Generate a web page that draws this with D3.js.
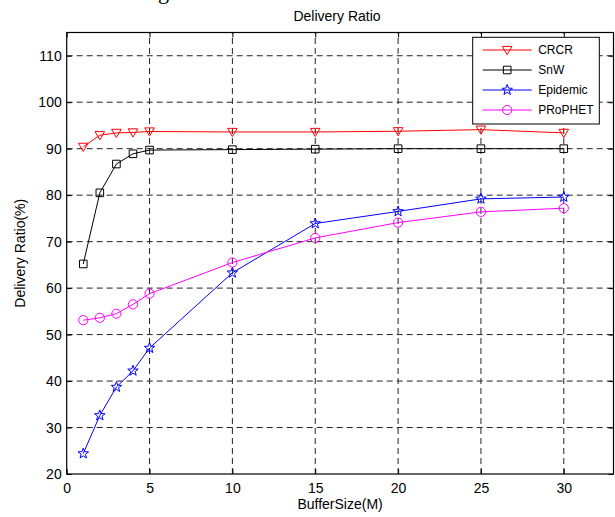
<!DOCTYPE html>
<html>
<head>
<meta charset="utf-8">
<script src="https://cdn.jsdelivr.net/npm/d3@7"></script>
<style>
  body { margin: 0; background: #fff; }
  svg { display: block; font-family: "Liberation Sans", Arial, sans-serif; }
</style>
</head>
<body>
<svg width="615" height="517"></svg>
<script>
// data
var bufferSize = [1, 2, 3, 4, 5, 10, 15, 20, 25, 30];
var crcr     = [90.4, 92.9, 93.4, 93.5, 93.7, 93.6, 93.6, 93.75, 94.1, 93.4];
var snw      = [65.2, 80.5, 86.7, 88.9, 89.7, 89.8, 89.9, 90.0, 90.0, 90.0];
var epidemic = [24.4, 32.6, 38.7, 42.2, 47.1, 63.3, 73.9, 76.5, 79.2, 79.6];
var prophet  = [53.1, 53.6, 54.5, 56.5, 58.8, 65.5, 70.8, 74.1, 76.4, 77.2];
var seriesNames = ["CRCR", "SnW", "Epidemic", "PRoPHET"];
var xTicks = [0, 5, 10, 15, 20, 25, 30];
var yTicks = [20, 30, 40, 50, 60, 70, 80, 90, 100, 110];

var svg = d3.select("svg");
var margin = {left: 66.7, top: 32.5, right: 1.5, bottom: 43};
var W = 615, H = 517;

var x = d3.scaleLinear().domain([0, 33]).range([margin.left, W - margin.right]);
var y = d3.scaleLinear().domain([20, 115]).range([H - margin.bottom, margin.top]);

var series = [
  {name: seriesNames[0], values: crcr, color: "#ff0000", marker: "tri"},
  {name: seriesNames[1], values: snw, color: "#000000", marker: "square"},
  {name: seriesNames[2], values: epidemic, color: "#0000ff", marker: "star"},
  {name: seriesNames[3], values: prophet, color: "#ff00ff", marker: "circle"}
];

// cut off caption text above the figure (only its descender shows)
svg.append("text")
  .attr("x", 158).attr("y", -1)
  .style("font-family", "Liberation Serif, serif")
  .style("font-size", "22px")
  .text("g");

// grid
var grid = svg.append("g").attr("class", "grid")
  .attr("stroke", "#222").attr("stroke-width", 1).attr("stroke-dasharray", "6,4");
grid.selectAll(".gx").data(xTicks.slice(1)).enter().append("line")
  .attr("x1", function(d) { return x(d); }).attr("x2", function(d) { return x(d); })
  .attr("y1", y(20)).attr("y2", y(115));
grid.selectAll(".gy").data(yTicks.slice(1)).enter().append("line")
  .attr("x1", x(0)).attr("x2", x(33))
  .attr("y1", function(d) { return y(d); }).attr("y2", function(d) { return y(d); });

// axes, ticks inward on all four sides
svg.append("g").attr("transform", "translate(0," + y(20) + ")")
  .call(d3.axisBottom(x).tickValues(xTicks).tickSizeInner(-5).tickSizeOuter(0).tickPadding(9));
svg.append("g").attr("transform", "translate(0," + y(115) + ")")
  .call(d3.axisTop(x).tickValues(xTicks).tickSizeInner(-5).tickSizeOuter(0).tickFormat(""));
svg.append("g").attr("transform", "translate(" + x(0) + ",0)")
  .call(d3.axisLeft(y).tickValues(yTicks).tickSizeInner(-5).tickSizeOuter(0).tickPadding(5));
svg.append("g").attr("transform", "translate(" + x(33) + ",0)")
  .call(d3.axisRight(y).tickValues(yTicks).tickSizeInner(-5).tickSizeOuter(0).tickFormat(""));

svg.selectAll(".domain").remove();
svg.selectAll(".tick line").attr("stroke", "#000");
svg.selectAll(".tick text")
  .attr("fill", "#000")
  .style("font-size", "14px")
  .style("font-family", "Liberation Sans, Arial, sans-serif");

// box
svg.append("rect")
  .attr("x", x(0)).attr("y", y(115))
  .attr("width", x(33) - x(0)).attr("height", y(20) - y(115))
  .attr("fill", "none").attr("stroke", "#000").attr("stroke-width", 1.2);

// markers
function markerPath(type) {
  if (type === "tri") return "M-4.8,-3.6L4.8,-3.6L0,4.6Z";
  if (type === "square") return "M-3.8,-3.8H3.8V3.8H-3.8Z";
  if (type === "star") {
    var pts = [];
    for (var i = 0; i < 10; i++) {
      var r = i % 2 === 0 ? 5.5 : 2.3;
      var a = -Math.PI / 2 + i * Math.PI / 5;
      pts.push([r * Math.cos(a), r * Math.sin(a)]);
    }
    return "M" + pts.join("L") + "Z";
  }
  return null;
}

function drawMarker(g, type, color) {
  if (type === "circle") {
    g.append("circle").attr("r", 4.6)
      .attr("fill", "none").attr("stroke", color).attr("stroke-width", 1);
  } else {
    g.append("path").attr("d", markerPath(type))
      .attr("fill", "none").attr("stroke", color).attr("stroke-width", 1);
  }
}

var line = d3.line()
  .x(function(d, i) { return x(bufferSize[i]); })
  .y(function(d) { return y(d); });

series.forEach(function(s) {
  svg.append("path")
    .datum(s.values)
    .attr("d", line)
    .attr("fill", "none")
    .attr("stroke", s.color)
    .attr("stroke-width", 1);
  svg.selectAll(null).data(s.values).enter().append("g")
    .attr("transform", function(d, i) { return "translate(" + x(bufferSize[i]) + "," + y(d) + ")"; })
    .each(function() { drawMarker(d3.select(this), s.marker, s.color); });
});

// labels
svg.append("text")
  .attr("x", 337).attr("y", 21)
  .attr("text-anchor", "middle")
  .style("font-size", "14px")
  .text("Delivery Ratio");

svg.append("text")
  .attr("x", (x(0) + x(33)) / 2).attr("y", 509)
  .attr("text-anchor", "middle")
  .style("font-size", "14px")
  .text("BufferSize(M)");

svg.append("text")
  .attr("transform", "translate(25," + (y(20) + y(115)) / 2 + ") rotate(-90)")
  .attr("text-anchor", "middle")
  .style("font-size", "14px")
  .text("Delivery Ratio(%)");

// legend
var legend = svg.append("g").attr("transform", "translate(472.7,37.3)");
legend.append("rect")
  .attr("width", 126.6).attr("height", 86.7)
  .attr("fill", "#fff").attr("stroke", "#000").attr("stroke-width", 1);
series.forEach(function(s, i) {
  var row = legend.append("g").attr("transform", "translate(0," + (12.7 + i * 20) + ")");
  row.append("line")
    .attr("x1", 10).attr("x2", 59)
    .attr("stroke", s.color).attr("stroke-width", 1);
  var m = row.append("g").attr("transform", "translate(34.5,0)");
  drawMarker(m, s.marker, s.color);
  row.append("text")
    .attr("x", 65.5).attr("y", 4.3)
    .style("font-size", "12px")
    .text(s.name);
});
</script>
</body>
</html>
